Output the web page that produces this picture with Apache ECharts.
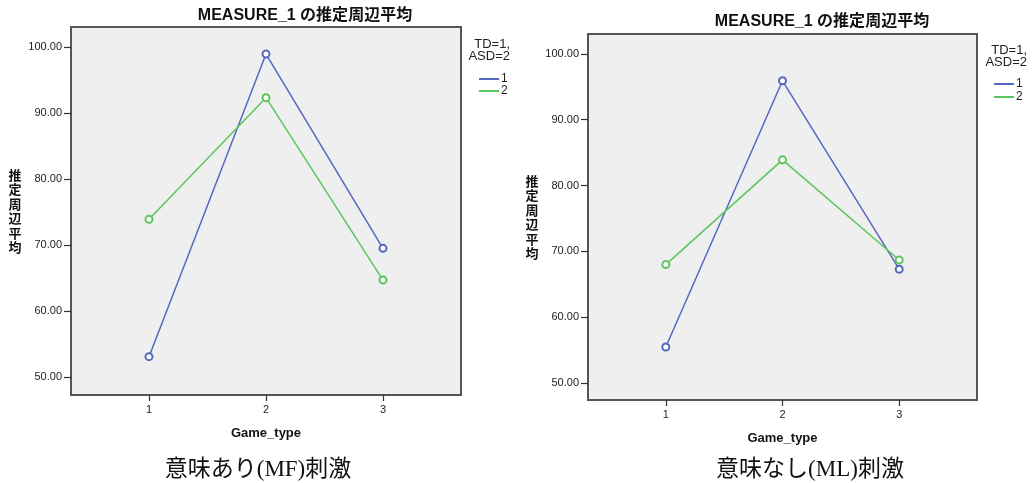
<!DOCTYPE html>
<html>
<head>
<meta charset="utf-8">
<script src="https://cdn.jsdelivr.net/npm/echarts@6/dist/echarts.min.js"></script>
<style>
html,body{margin:0;padding:0;background:#fff;}
#c{width:1033px;height:483px;}
</style>
</head>
<body>
<div id="c"></div>
<script>
// ---- data ----
const categories = [1, 2, 3];
const yTicks = [50, 60, 70, 80, 90, 100];
const seriesNames = ['1', '2'];
const mfTD  = [53.1, 98.9, 69.5];   // 意味あり(MF) TD=1
const mfASD = [73.9, 92.3, 64.7];   // 意味あり(MF) ASD=2
const mlTD  = [55.5, 95.9, 67.3];   // 意味なし(ML) TD=1
const mlASD = [68.0, 83.9, 68.7];   // 意味なし(ML) ASD=2
const titleText = 'MEASURE_1 の推定周辺平均';
const yName = '推定周辺平均';
const xName = 'Game_type';
const legendHeader = 'TD=1,\nASD=2';
const captions = ['意味あり(MF)刺激', '意味なし(ML)刺激'];

const BLUE = '#5568c0', GREEN = '#5cc65c', BORDER = '#555';
const SANS = '"Liberation Sans", Arial, "Noto Sans CJK JP", sans-serif';

function pts(arr) { return arr.map((v, i) => [categories[i], v]); }

const grids = [
  {left: 71, top: 27, width: 390, height: 368},
  {left: 588, top: 34, width: 389, height: 366}
];
const yRanges = [[47.3, 103], [47.45, 103]];

const option = {
  animation: false,
  backgroundColor: '#fff',
  grid: grids.map(g => Object.assign({show: true, backgroundColor: '#efefef', borderColor: BORDER, borderWidth: 2}, g)),
  xAxis: grids.map((g, i) => ({
    type: 'value', gridIndex: i, min: 0.3333, max: 3.6667,
    name: xName, nameLocation: 'middle', nameGap: 32,
    nameTextStyle: {fontFamily: SANS, fontWeight: 'bold', fontSize: 13, color: '#111'},
    axisLine: {show: false},
    axisTick: {show: true, customValues: categories, length: 6, lineStyle: {color: '#333', width: 1.2}},
    axisLabel: {customValues: categories, fontFamily: SANS, fontSize: 11, color: '#222', margin: 9},
    splitLine: {show: false}
  })),
  yAxis: grids.map((g, i) => ({
    type: 'value', gridIndex: i, min: yRanges[i][0], max: yRanges[i][1],
    name: yName.split('').join('\n'), nameLocation: 'middle', nameGap: 56, nameRotate: 0,
    nameTextStyle: {fontFamily: '"Noto Sans CJK JP", sans-serif', fontWeight: 'bold', fontSize: 13, lineHeight: 14.5, color: '#111', align: 'center', verticalAlign: 'middle'},
    axisLine: {show: false},
    axisTick: {show: true, customValues: yTicks, length: 7, lineStyle: {color: '#333', width: 1.2}},
    axisLabel: {customValues: yTicks, formatter: v => v.toFixed(2), fontFamily: SANS, fontSize: 11, color: '#222', margin: 9},
    splitLine: {show: false}
  })),
  legend: [
    {left: 474, top: 68, orient: 'vertical', data: seriesNames, icon: 'rect', itemWidth: 20, itemHeight: 2, itemGap: 0,
     textStyle: {fontFamily: SANS, fontSize: 12, color: '#222', padding: [0,0,0,-3]}, selectedMode: false},
    {left: 989, top: 73, orient: 'vertical', data: seriesNames, icon: 'rect', itemWidth: 20, itemHeight: 2, itemGap: 1,
     textStyle: {fontFamily: SANS, fontSize: 12, color: '#222', padding: [0,0,0,-3]}, selectedMode: false}
  ],
  graphic: [
    {type: 'text', x: 305, y: 16, style: {text: titleText, font: 'bold 16px ' + SANS, fill: '#111', textAlign: 'center', textVerticalAlign: 'middle'}},
    {type: 'text', x: 822, y: 22, style: {text: titleText, font: 'bold 16px ' + SANS, fill: '#111', textAlign: 'center', textVerticalAlign: 'middle'}},
    {type: 'text', x: 510, y: 50, style: {text: legendHeader, font: '13px ' + SANS, fill: '#222', textAlign: 'right', textVerticalAlign: 'middle', lineHeight: 12}},
    {type: 'text', x: 1027, y: 56, style: {text: legendHeader, font: '13px ' + SANS, fill: '#222', textAlign: 'right', textVerticalAlign: 'middle', lineHeight: 12}},
    {type: 'text', x: 258, y: 470, style: {text: captions[0], font: '23px "Liberation Serif", "Noto Sans CJK JP", serif', fill: '#111', textAlign: 'center', textVerticalAlign: 'middle'}},
    {type: 'text', x: 810, y: 470, style: {text: captions[1], font: '23px "Liberation Serif", "Noto Sans CJK JP", serif', fill: '#111', textAlign: 'center', textVerticalAlign: 'middle'}}
  ],
  series: [
    {name: '1', type: 'line', xAxisIndex: 0, yAxisIndex: 0, data: pts(mfTD), color: BLUE},
    {name: '2', type: 'line', xAxisIndex: 0, yAxisIndex: 0, data: pts(mfASD), color: GREEN},
    {name: '1', type: 'line', xAxisIndex: 1, yAxisIndex: 1, data: pts(mlTD), color: BLUE},
    {name: '2', type: 'line', xAxisIndex: 1, yAxisIndex: 1, data: pts(mlASD), color: GREEN}
  ].map(s => Object.assign(s, {symbol: 'emptyCircle', symbolSize: 7, lineStyle: {width: 1.5}, itemStyle: {borderWidth: 1}}))
};

const chart = echarts.init(document.getElementById('c'), null, {renderer: 'canvas'});
chart.setOption(option);
</script>
</body>
</html>
